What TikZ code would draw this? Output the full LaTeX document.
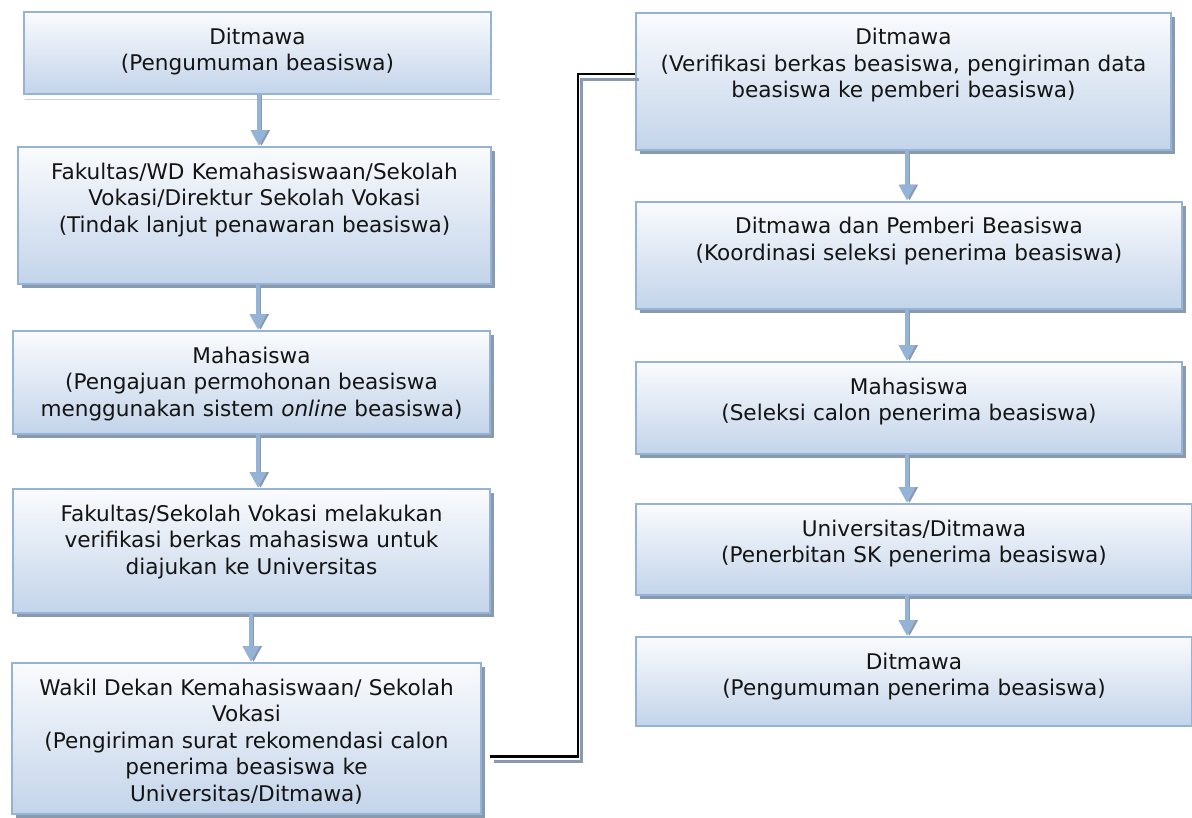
\documentclass[tikz,border=0pt]{standalone}
\usepackage{fontspec}
\setmainfont{DejaVu Sans}
\usetikzlibrary{arrows.meta,shadows}
\definecolor{boxedge}{HTML}{95B3D7}
\definecolor{boxtop}{HTML}{FAFBFD}
\definecolor{boxbot}{HTML}{C3D4EA}
\definecolor{shadowgray}{HTML}{8A9AAE}
\definecolor{inkdark}{HTML}{141414}
\definecolor{ghostline}{HTML}{CDD2D8}

\begin{document}
\begin{tikzpicture}[x=1pt, y=-1pt,
  stage/.style={draw=boxedge, line width=2pt, top color=boxtop, bottom color=boxbot,
    anchor=north west, align=center, inner xsep=4pt, inner ysep=0pt, text height=32pt,
    font=\fontsize{21.6}{26.5}\selectfont, text=inkdark},
  lifted/.style={drop shadow={shadow xshift=4pt, shadow yshift=-4pt, fill=shadowgray, opacity=1}},
  flow/.style={draw=boxedge, line width=4.5pt, -{Triangle[width=16pt,length=16pt]},
    preaction={draw=shadowgray, transform canvas={xshift=2.5pt}}},
  link/.style={draw=black, line width=2.5pt,
    preaction={draw=shadowgray, line width=3pt, transform canvas={xshift=3.5pt,yshift=-5pt}}}]
\useasboundingbox (0,0) rectangle (1192,817);
% left column
\node(b1)[stage, text width=459pt, text depth=50pt] at (23,11) {Ditmawa\\(Pengumuman beasiswa)};
\node(b2)[stage, lifted, text width=465pt, text depth=105pt] at (17,146) {Fakultas/WD Kemahasiswaan/Sekolah\\Vokasi/Direktur Sekolah Vokasi\\(Tindak lanjut penawaran beasiswa)};
\node(b3)[stage, lifted, text width=469pt, text depth=71pt] at (12,330) {Mahasiswa\\(Pengajuan permohonan beasiswa\\menggunakan sistem \textit{online} beasiswa)};
\node(b4)[stage, lifted, text width=469pt, text depth=92pt] at (12,488) {Fakultas/Sekolah Vokasi melakukan\\verifikasi berkas mahasiswa untuk\\diajukan ke Universitas};
\node(b5)[stage, lifted, text width=461pt, text depth=119pt] at (11,662) {Wakil Dekan Kemahasiswaan/ Sekolah\\Vokasi\\(Pengiriman surat rekomendasi calon\\penerima beasiswa ke\\Universitas/Ditmawa)};
% right column
\node(r1)[stage, lifted, text width=527pt, text depth=105pt] at (635,11.5) {Ditmawa\\(Verifikasi berkas beasiswa, pengiriman data\\beasiswa ke pemberi beasiswa)};
\node(r2)[stage, lifted, text width=538pt, text depth=75pt] at (635,200.5) {Ditmawa dan Pemberi Beasiswa\\(Koordinasi seleksi penerima beasiswa)};
\node(r3)[stage, lifted, text width=538pt, text depth=60pt] at (635,361) {Mahasiswa\\(Seleksi calon penerima beasiswa)};
\node(r4)[stage, lifted, text width=548pt, text depth=59pt] at (635,503) {Universitas/Ditmawa\\(Penerbitan SK penerima beasiswa)};
\node(r5)[stage, text width=548pt, text depth=57pt] at (635,636) {Ditmawa\\(Pengumuman penerima beasiswa)};
\draw[ghostline, line width=1pt] (25,99) -- (500,99);
% arrows
\draw[flow] (259,0 |- b1.south) -- (259,0 |- b2.north);
\draw[flow] (258,0 |- b2.south) -- (258,0 |- b3.north);
\draw[flow] (258,0 |- b3.south) -- (258,0 |- b4.north);
\draw[flow] (251,0 |- b4.south) -- (251,0 |- b5.north);
\draw[flow] (907,0 |- r1.south) -- (907,0 |- r2.north);
\draw[flow] (907,0 |- r2.south) -- (907,0 |- r3.north);
\draw[flow] (907,0 |- r3.south) -- (907,0 |- r4.north);
\draw[flow] (907,0 |- r4.south) -- (907,0 |- r5.north);
\draw[link] ([shift={(8pt,-18pt)}]b5.east) -- ++(88,0) |- ([yshift=7pt]r1.west);
\end{tikzpicture}
\end{document}
